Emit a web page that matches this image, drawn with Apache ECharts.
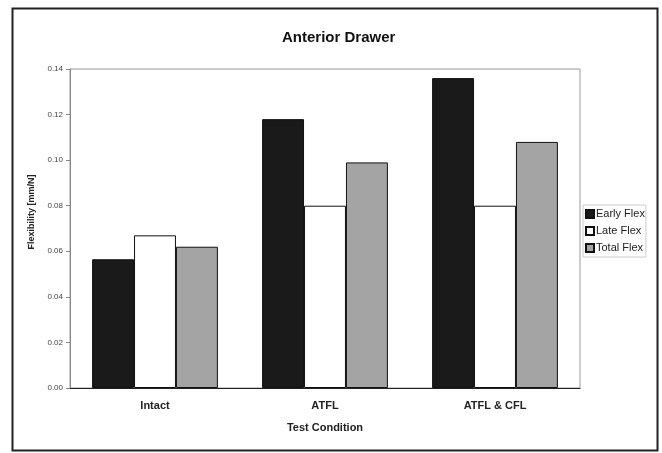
<!DOCTYPE html>
<html>
<head>
<meta charset="utf-8">
<script src="https://cdn.jsdelivr.net/npm/echarts@6/dist/echarts.min.js"></script>
<style>
html,body{margin:0;padding:0;background:#fff;}
#chart{width:662px;height:453px;}
</style>
</head>
<body>
<div id="chart"></div>
<script>
const categories = ['Intact', 'ATFL', 'ATFL & CFL'];
const seriesNames = ['Early Flex', 'Late Flex', 'Total Flex'];
const earlyFlex = [0.0565, 0.118, 0.136];
const lateFlex = [0.067, 0.080, 0.080];
const totalFlex = [0.062, 0.099, 0.108];
const yTicks = [0, 0.02, 0.04, 0.06, 0.08, 0.10, 0.12, 0.14];

const font = '"Liberation Sans", Arial, sans-serif';
const chart = echarts.init(document.getElementById('chart'));
const barStyle = (fill) => ({ color: fill, borderColor: '#111', borderWidth: 1 });
chart.setOption({
  animation: false,
  backgroundColor: '#fff',
  title: {
    text: 'Anterior Drawer', left: 277, top: 25,
    textStyle: { fontFamily: font, fontSize: 15, fontWeight: 'bold', color: '#111' }
  },
  graphic: [{
    type: 'rect', shape: { x: 12.5, y: 8.5, width: 645, height: 442 },
    style: { fill: 'none', stroke: '#222', lineWidth: 2 }, silent: true
  }, {
    type: 'text', x: 32, y: 212, rotation: Math.PI / 2,
    style: { text: 'Flexibility [mm/N]', font: 'bold 9px ' + font, fill: '#222',
      textAlign: 'center', textVerticalAlign: 'middle' }
  }],
  legend: {
    orient: 'vertical', left: 583, top: 205,
    itemWidth: 8, itemHeight: 8, itemGap: 5,
    padding: [3, 1, 3, 2],
    borderColor: '#ccc', borderWidth: 1,
    icon: 'rect',
    textStyle: { fontFamily: font, fontSize: 11, color: '#222', padding: [0, 0, 0, -3], lineHeight: 12 },
    data: seriesNames
  },
  grid: { left: 70, right: 82, top: 69, bottom: 65, show: true, borderColor: '#999', borderWidth: 1 },
  xAxis: {
    type: 'category', data: categories,
    axisLine: { lineStyle: { color: '#222' } },
    axisTick: { show: false },
    axisLabel: { fontFamily: font, fontSize: 11, fontWeight: 'bold', color: '#222', margin: 12 },
    name: 'Test Condition', nameLocation: 'middle', nameGap: 34,
    nameTextStyle: { fontFamily: font, fontSize: 11, fontWeight: 'bold', color: '#222' }
  },
  yAxis: {
    type: 'value', min: 0, max: 0.14, interval: 0.02,
    axisLine: { show: true, lineStyle: { color: '#888' } },
    axisTick: { show: true, length: 4, lineStyle: { color: '#888' } },
    splitLine: { show: false },
    axisLabel: { fontFamily: font, fontSize: 8, color: '#444', margin: 7,
      formatter: v => v.toFixed(2) }
  },
  series: [
    { name: seriesNames[0], type: 'bar', data: earlyFlex, barGap: '0%', barCategoryGap: '26%', itemStyle: barStyle('#1a1a1a') },
    { name: seriesNames[1], type: 'bar', data: lateFlex, itemStyle: barStyle('#ffffff') },
    { name: seriesNames[2], type: 'bar', data: totalFlex, itemStyle: barStyle('#a4a4a4') }
  ]
});
</script>
</body>
</html>
